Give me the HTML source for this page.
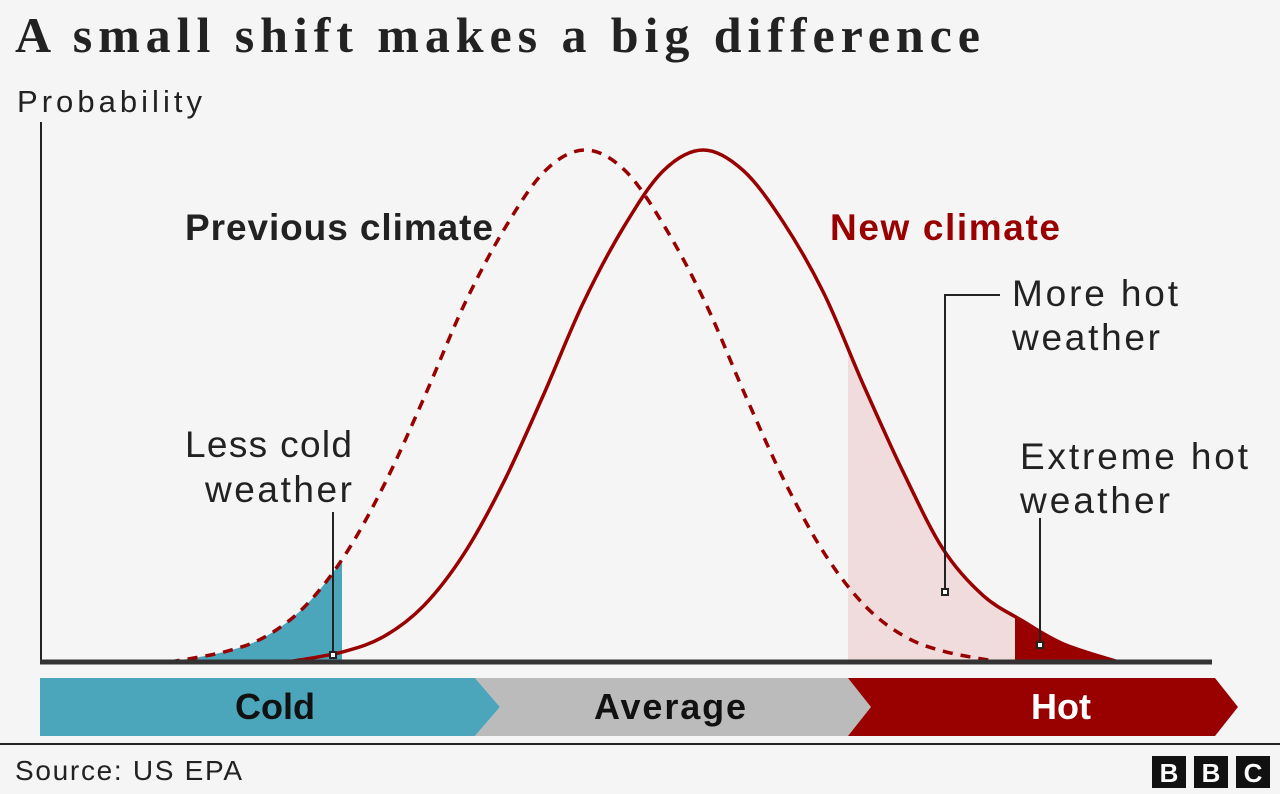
<!DOCTYPE html>
<html><head><meta charset="utf-8"><style>
body{margin:0;background:#f5f5f5;}
svg{display:block;font-family:"Liberation Sans",sans-serif;}
</style></head><body>
<svg width="1280" height="794" viewBox="0 0 1280 794">
<rect width="1280" height="794" fill="#f5f5f5"/>
<text x="15" y="52" font-family="Liberation Serif,serif" font-weight="bold" font-size="50" fill="#222" textLength="965" lengthAdjust="spacing">A small shift makes a big difference</text>
<text x="17" y="112" font-size="31" fill="#222" textLength="185">Probability</text>
<defs>
<clipPath id="cCold"><rect x="0" y="0" width="342" height="662"/></clipPath>
<clipPath id="cMore"><rect x="848" y="0" width="167" height="662"/></clipPath>
<clipPath id="cExt"><rect x="1015" y="0" width="300" height="662"/></clipPath>
</defs>
<g id="fills"></g>
<g id="curves"></g>
<line x1="41" y1="122" x2="41" y2="662" stroke="#222" stroke-width="2"/>
<line x1="40" y1="662" x2="1212" y2="662" stroke="#333" stroke-width="5"/>
<g font-size="37" stroke="#f5f5f5" stroke-width="8" paint-order="stroke" stroke-linejoin="round">
<text x="185" y="240" fill="#222" font-weight="bold" textLength="308">Previous climate</text>
<text x="830" y="240" fill="#990000" font-weight="bold" textLength="230">New climate</text>
</g>
<g font-size="37" fill="#222">
<text x="185" y="457" textLength="167">Less cold</text>
<text x="205" y="502" textLength="147">weather</text>
<text x="1012" y="306" textLength="166">More hot</text>
<text x="1012" y="350" textLength="148">weather</text>
<text x="1020" y="469" textLength="228">Extreme hot</text>
<text x="1020" y="513" textLength="150">weather</text>
</g>
<g stroke="#222" stroke-width="2" fill="none">
<polyline points="333,655 333,512"/>
<rect x="330" y="652" width="6" height="6" fill="#fff"/>
<polyline points="945,592 945,295 1000,295"/>
<rect x="942" y="589" width="6" height="6" fill="#fff"/>
<polyline points="1040,645 1040,518"/>
<rect x="1037" y="642" width="6" height="6" fill="#fff"/>
</g>
<polygon points="40,678 475,678 500,707 475,736 40,736" fill="#4ba6bc"/>
<polygon points="475,678 850,678 873,707 850,736 475,736 500,707" fill="#bbbbbb"/>
<polygon points="848,678 1215,678 1238,707 1215,736 848,736 871,707" fill="#990000"/>
<g font-size="36" font-weight="bold" text-anchor="middle">
<text x="275" y="719" fill="#111">Cold</text>
<text x="670" y="719" fill="#111" textLength="152">Average</text>
<text x="1061" y="719" fill="#fff">Hot</text>
</g>
<line x1="0" y1="744" x2="1280" y2="744" stroke="#222" stroke-width="2"/>
<text x="15" y="780" font-size="28" fill="#222" textLength="227">Source: US EPA</text>
<g>
<rect x="1152" y="756" width="34" height="32" fill="#111"/><rect x="1194" y="756" width="34" height="32" fill="#111"/><rect x="1236" y="756" width="34" height="32" fill="#111"/>
<g fill="#fff" font-weight="bold" font-size="26" text-anchor="middle"><text x="1169" y="782">B</text><text x="1211" y="782">B</text><text x="1253" y="782">C</text></g>
</g>
</svg>
<script>
const prevX=[11.1,15.8,19.3,22.7,26.1,29.5,32.9,36.3,39.8,43.2,46.6,50.0,53.4,56.9,60.3,63.7,67.1,70.5,73.9,77.4,82.1];
const prevY=[0,0.02,0.05,0.11,0.21,0.35,0.52,0.70,0.85,0.96,1,0.96,0.85,0.70,0.52,0.35,0.21,0.11,0.05,0.02,0];
const newX=[21.2,25.9,29.4,32.8,36.2,39.6,43.0,46.4,49.9,53.3,56.7,60.1,63.5,67.0,70.4,73.8,77.2,80.6,84.0,87.5,92.2];
const newY=[0,0.02,0.05,0.11,0.21,0.35,0.52,0.70,0.85,0.96,1,0.96,0.86,0.72,0.54,0.37,0.22,0.13,0.08,0.035,0];
const sx=v=>40+v*11.7, sy=v=>662-v*512;
function pathOf(xs,ys){
  const p=xs.map((x,i)=>[sx(x),sy(ys[i])]);
  let d='M'+p[0][0]+','+p[0][1];
  for(let i=0;i<p.length-1;i++){
    const p0=p[Math.max(i-1,0)],p1=p[i],p2=p[i+1],p3=p[Math.min(i+2,p.length-1)];
    const c1=[p1[0]+(p2[0]-p0[0])/6,p1[1]+(p2[1]-p0[1])/6];
    const c2=[p2[0]-(p3[0]-p1[0])/6,p2[1]-(p3[1]-p1[1])/6];
    d+=' C'+c1+' '+c2+' '+p2;
  }
  return d;
}
const NS='http://www.w3.org/2000/svg';
const fills=document.getElementById('fills'),curves=document.getElementById('curves');
const dPrev=pathOf(prevX,prevY), dNew=pathOf(newX,newY);
function fillArea(d,clip,color,name){
  const e=document.createElementNS(NS,'path');
  e.setAttribute('d',d+' Z');e.setAttribute('fill',color);e.setAttribute('clip-path','url(#'+clip+')');
  
  
  fills.appendChild(e);
}
fillArea(dPrev,'cCold','#4ba6bc','less-cold-area');
fillArea(dNew,'cMore','#f0dcdc','more-hot-area');
fillArea(dNew,'cExt','#990000','extreme-hot-area');
const a=document.createElementNS(NS,'path');
a.setAttribute('d',dPrev);a.setAttribute('fill','none');a.setAttribute('stroke','#990000');a.setAttribute('stroke-width','3.5');a.setAttribute('stroke-dasharray','10,8');


curves.appendChild(a);
const b=document.createElementNS(NS,'path');
b.setAttribute('d',dNew);b.setAttribute('fill','none');b.setAttribute('stroke','#990000');b.setAttribute('stroke-width','3.5');


curves.appendChild(b);
</script>
</body></html>
